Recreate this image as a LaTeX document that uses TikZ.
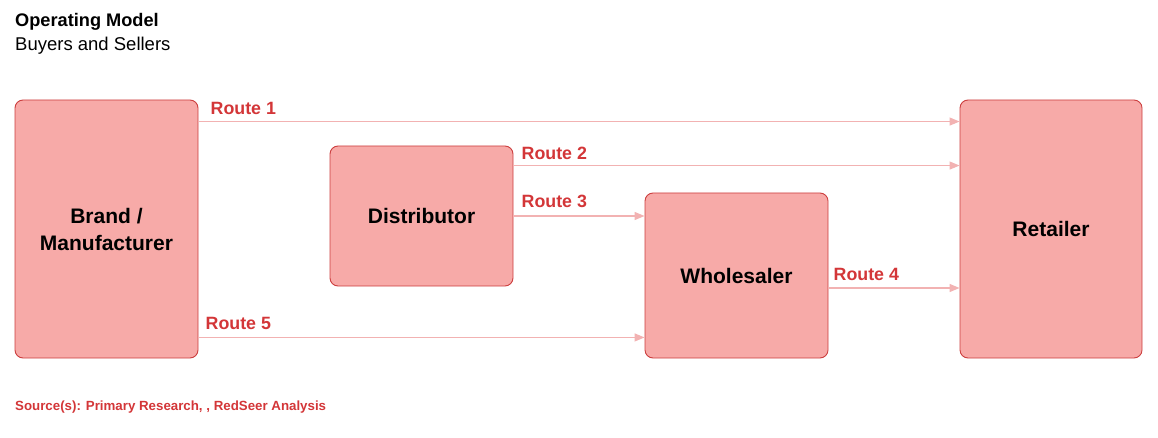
\documentclass[tikz,border=0pt]{standalone}
\usepackage{fontspec}
\setmainfont{Liberation Sans}
\usetikzlibrary{arrows.meta}

\definecolor{boxfill}{RGB}{247,170,168}
\definecolor{boxline}{RGB}{204,62,62}
\definecolor{routered}{RGB}{211,54,56}
\definecolor{routeline}{RGB}{242,178,178}

\tikzset{
    party/.style={draw=boxline, fill=boxfill, line width=0.9pt, rounded corners=8pt,
        minimum width=183pt, align=center, text=black,
        font=\fontsize{21}{27}\selectfont\bfseries},
    route/.style={draw=routeline, line width=1.3pt,
        -{Triangle[length=10pt,width=8pt,fill=routeline]}},
    routelabel/.style={anchor=south west, inner sep=0pt, text=routered,
        font=\fontsize{17.8}{20}\selectfont\bfseries}
}

\begin{document}
\begin{tikzpicture}[x=1pt,y=-1pt]
    \useasboundingbox (0,0) rectangle (1158,438);

    % heading
    \node[anchor=west, inner sep=0pt, font=\fontsize{18.2}{20}\selectfont\bfseries] (title) at (15,22) {Operating Model};
    \node[anchor=west, inner sep=0pt, font=\fontsize{18.5}{20}\selectfont] (subtitle) at (15,46) {Buyers and Sellers};

    % parties
    \node[party, minimum height=258pt] (brand) at (106.5,229) {Brand /\\Manufacturer};
    \node[party, minimum height=140pt] (distributor) at (421.5,216) {Distributor};
    \node[party, minimum height=165pt] (wholesaler) at (736.5,275.5) {Wholesaler};
    \node[party, minimum height=258pt, minimum width=182pt] (retailer) at (1051,229) {Retailer};

    % route start points
    \coordinate (r1) at ([yshift=-22pt]brand.north east);
    \coordinate (r2) at ([yshift=-20pt]distributor.north east);
    \coordinate (r3) at (distributor.east);
    \coordinate (r4) at ([yshift=-12.5pt]wholesaler.east);
    \coordinate (r5) at ([yshift=21pt]brand.south east);

    % routes
    \draw[route] (r1) -- (r1 -| retailer.west);
    \draw[route] (r2) -- (r2 -| retailer.west);
    \draw[route] (r3) -- (r3 -| wholesaler.west);
    \draw[route] (r4) -- (r4 -| retailer.west);
    \draw[route] (r5) -- (r5 -| wholesaler.west);

    \node[routelabel] (route1) at ([xshift=12pt,yshift=7pt]r1) {Route 1};
    \node[routelabel] (route2) at ([xshift=8pt,yshift=6pt]r2) {Route 2};
    \node[routelabel] (route3) at ([xshift=8pt,yshift=8pt]r3) {Route 3};
    \node[routelabel] (route4) at ([xshift=5pt,yshift=7pt]r4) {Route 4};
    \node[routelabel] (route5) at ([xshift=7pt,yshift=8pt]r5) {Route 5};

    % source
    \node[anchor=west, inner sep=0pt, text=routered, font=\fontsize{13.3}{15}\selectfont\bfseries] (source) at (15,407) {Source(s): Primary Research, , RedSeer Analysis};
\end{tikzpicture}
\end{document}
